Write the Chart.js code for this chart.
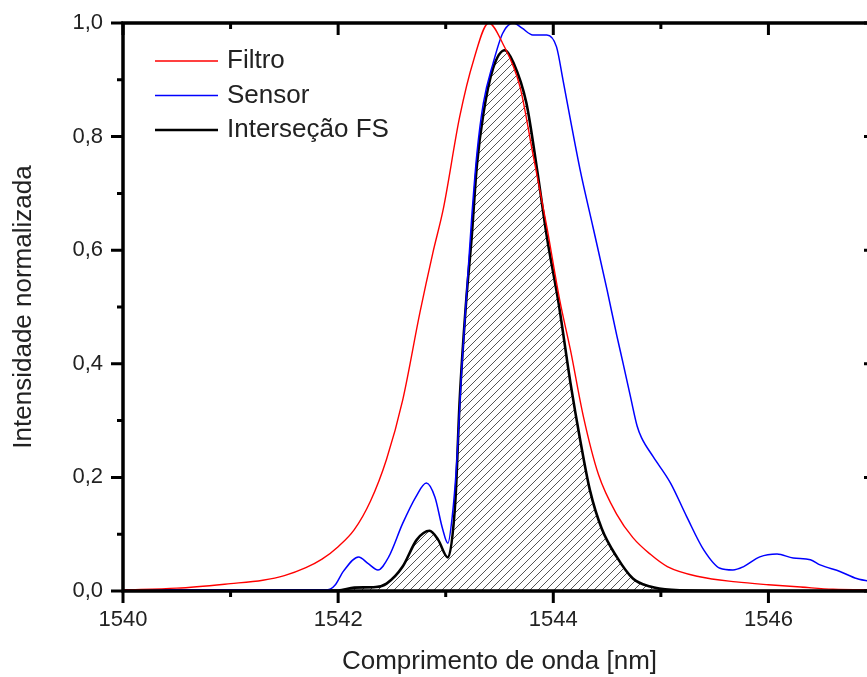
<!DOCTYPE html>
<html>
<head>
<meta charset="utf-8">
<script src="https://cdn.jsdelivr.net/npm/chart.js@4.4.1/dist/chart.umd.min.js"></script>
<style>
	html, body { margin: 0; padding: 0; background: #fff; overflow: hidden; }
	#wrap { position: relative; width: 900px; height: 677px; }
</style>
</head>
<body>
<div id="wrap"><canvas id="chart"></canvas></div>
<script>
(() => {
	'use strict'

	// Filtro (red)
	const filtroX = [1540.0, 1540.5, 1541.0, 1541.3, 1541.5, 1541.7, 1541.85, 1542.0, 1542.15, 1542.3, 1542.45, 1542.6, 1542.76, 1542.88, 1542.98, 1543.13, 1543.26, 1543.4, 1543.53, 1543.69, 1543.81, 1543.94, 1544.06, 1544.16, 1544.28, 1544.42, 1544.59, 1544.74, 1544.9, 1545.06, 1545.36, 1545.7, 1546.0, 1546.3, 1546.6, 1547.0];
	const filtroY = [0.002, 0.005, 0.013, 0.019, 0.027, 0.041, 0.056, 0.078, 0.108, 0.158, 0.232, 0.336, 0.49, 0.595, 0.675, 0.835, 0.935, 1.0, 0.964, 0.888, 0.77, 0.641, 0.512, 0.424, 0.307, 0.205, 0.135, 0.094, 0.065, 0.043, 0.025, 0.016, 0.011, 0.007, 0.003, 0.002];

	// Sensor (blue)
	const sensorX = [1540.0, 1541.0, 1541.9, 1541.97, 1542.05, 1542.19, 1542.28, 1542.37, 1542.47, 1542.6, 1542.72, 1542.82, 1542.9, 1542.97, 1543.02, 1543.06, 1543.1, 1543.15, 1543.19, 1543.24, 1543.29, 1543.35, 1543.44, 1543.53, 1543.63, 1543.71, 1543.81, 1543.94, 1544.03, 1544.09, 1544.16, 1544.25, 1544.37, 1544.5, 1544.59, 1544.65, 1544.72, 1544.78, 1544.82, 1544.93, 1545.09, 1545.24, 1545.4, 1545.55, 1545.67, 1545.77, 1545.92, 1546.08, 1546.23, 1546.39, 1546.48, 1546.67, 1546.82, 1547.0];
	const sensorY = [0.002, 0.002, 0.002, 0.01, 0.035, 0.06, 0.048, 0.037, 0.06, 0.119, 0.165, 0.19, 0.165, 0.11, 0.084, 0.13, 0.22, 0.395, 0.512, 0.653, 0.77, 0.859, 0.929, 0.982, 1.0, 0.991, 0.979, 0.979, 0.958, 0.9, 0.829, 0.741, 0.64, 0.53, 0.45, 0.40, 0.34, 0.29, 0.27, 0.236, 0.19, 0.131, 0.072, 0.04, 0.037, 0.043, 0.06, 0.065, 0.058, 0.055, 0.046, 0.034, 0.022, 0.015];

	// Interseção FS (black, hatched)
	const interX = [1540.0, 1542.0, 1542.15, 1542.35, 1542.45, 1542.6, 1542.73, 1542.85, 1542.93, 1543.02, 1543.09, 1543.13, 1543.19, 1543.24, 1543.29, 1543.35, 1543.44, 1543.55, 1543.63, 1543.75, 1543.85, 1543.94, 1544.05, 1544.16, 1544.25, 1544.34, 1544.45, 1544.59, 1544.74, 1544.9, 1545.1, 1545.5, 1547.0];
	const interY = [0.001, 0.001, 0.006, 0.007, 0.013, 0.043, 0.09, 0.106, 0.09, 0.059, 0.16, 0.336, 0.51, 0.62, 0.75, 0.84, 0.92, 0.952, 0.93, 0.859, 0.741, 0.624, 0.506, 0.366, 0.266, 0.178, 0.11, 0.06, 0.022, 0.008, 0.002, 0.0, 0.0];

	// Tick values
	const xMajorTicks = [1540, 1542, 1544, 1546];
	const xMinorTicks = [1541, 1543, 1545];
	const yMajorTicks = [0, 0.2, 0.4, 0.6, 0.8, 1.0];
	const yMinorTicks = [0.1, 0.3, 0.5, 0.7, 0.9];

	const fontFamily = '"Liberation Sans", Arial, sans-serif';
	const textColor = '#222';

	// Helper to build {x, y} points
	function toPoints(xs, ys) {
		return xs.map((x, i) => ({ x: x, y: ys[i] }));
	}

	// Diagonal hatch pattern
	function makeHatch() {
		const s = 8;
		const c = document.createElement('canvas');
		c.width = s;
		c.height = s;
		const g = c.getContext('2d');
		g.strokeStyle = '#555';
		g.lineWidth = 1;
		g.beginPath();
		g.moveTo(0, s); g.lineTo(s, 0);
		g.moveTo(-1, 1); g.lineTo(1, -1);
		g.moveTo(s - 1, s + 1); g.lineTo(s + 1, s - 1);
		g.stroke();
		return g.createPattern(c, 'repeat');
	}

	// Frame + Origin style tick marks
	const framePlugin = {
		id: 'frame',
		afterDatasetsDraw(chart) {
			const { ctx, chartArea: a, scales: { x, y } } = chart;
			ctx.save();
			ctx.strokeStyle = '#000';
			ctx.lineWidth = 3.5;
			ctx.strokeRect(a.left, a.top, a.right - a.left, a.bottom - a.top);

			ctx.lineWidth = 3;
			ctx.beginPath();
			const xt = (v, len) => {
				const px = x.getPixelForValue(v);
				ctx.moveTo(px, a.bottom); ctx.lineTo(px, a.bottom + len);
				ctx.moveTo(px, a.top); ctx.lineTo(px, a.top + len);
			};
			const yt = (v, len) => {
				const py = y.getPixelForValue(v);
				ctx.moveTo(a.left, py); ctx.lineTo(a.left - len, py);
				ctx.moveTo(a.right, py); ctx.lineTo(a.right - len, py);
			};
			xMajorTicks.forEach(v => xt(v, 12));
			xMinorTicks.forEach(v => xt(v, 6));
			yMajorTicks.forEach(v => yt(v, 12));
			yMinorTicks.forEach(v => yt(v, 6));
			ctx.stroke();
			ctx.restore();
		}
	};

	// Legend drawn inside the plot area
	const legendPlugin = {
		id: 'insideLegend',
		afterDraw(chart) {
			const { ctx, chartArea: a } = chart;
			ctx.save();
			ctx.font = '26px ' + fontFamily;
			ctx.textBaseline = 'middle';
			ctx.fillStyle = textColor;
			chart.data.datasets.forEach((ds, i) => {
				const yy = a.top + 38 + i * 34.5;
				ctx.strokeStyle = ds.borderColor;
				ctx.lineWidth = ds.borderWidth;
				ctx.beginPath();
				ctx.moveTo(a.left + 32, yy);
				ctx.lineTo(a.left + 95, yy);
				ctx.stroke();
				ctx.fillText(ds.label, a.left + 104, yy);
			});
			ctx.restore();
		}
	};

	const dataChart = {
		datasets: [
			{
				label: 'Filtro',
				data: toPoints(filtroX, filtroY),
				borderColor: '#ff0000',
				borderWidth: 1.4,
				fill: false
			},
			{
				label: 'Sensor',
				data: toPoints(sensorX, sensorY),
				borderColor: '#0000ff',
				borderWidth: 1.5,
				fill: false
			},
			{
				label: 'Interseção FS',
				data: toPoints(interX, interY),
				borderColor: '#000000',
				borderWidth: 2.6,
				backgroundColor: makeHatch(),
				fill: 'origin'
			}
		]
	};

	const configChart = {
		type: 'line',
		data: dataChart,
		options: {
			responsive: true,
			maintainAspectRatio: false,
			animation: false,
			elements: {
				point: { radius: 0 },
				line: { cubicInterpolationMode: 'monotone' }
			},
			layout: {
				padding: { left: 0, right: 24, top: 23, bottom: 0 }
			},
			plugins: {
				legend: { display: false },
				tooltip: { enabled: false },
				title: { display: false }
			},
			scales: {
				x: {
					type: 'linear',
					min: 1540,
					max: 1547,
					grid: { display: false, drawTicks: false },
					border: { display: false },
					ticks: {
						stepSize: 1,
						autoSkip: false,
						maxRotation: 0,
						padding: 16,
						color: textColor,
						font: { family: fontFamily, size: 22 },
						callback: v => (v % 2 === 0 && v < 1547) ? String(v) : ''
					},
					title: {
						display: true,
						text: 'Comprimento de onda [nm]',
						color: textColor,
						font: { family: fontFamily, size: 26 },
						padding: { top: 0, bottom: 0 }
					},
					afterFit(scale) {
						scale.height = 86;
						scale.paddingLeft = 0;
						scale.paddingRight = 0;
					}
				},
				y: {
					min: 0,
					max: 1,
					grid: { display: false, drawTicks: false },
					border: { display: false },
					ticks: {
						stepSize: 0.2,
						padding: 20,
						color: textColor,
						font: { family: fontFamily, size: 22 },
						callback: v => v.toFixed(1).replace('.', ',')
					},
					title: {
						display: true,
						text: 'Intensidade normalizada',
						color: textColor,
						font: { family: fontFamily, size: 26 },
						padding: { top: 8, bottom: 0 }
					},
					afterFit(scale) {
						scale.width = 123;
						scale.paddingTop = 0;
						scale.paddingBottom = 0;
					}
				}
			}
		},
		plugins: [framePlugin, legendPlugin]
	};

	const myChart = new Chart(document.getElementById('chart'), configChart);
})()
</script>
</body>
</html>
